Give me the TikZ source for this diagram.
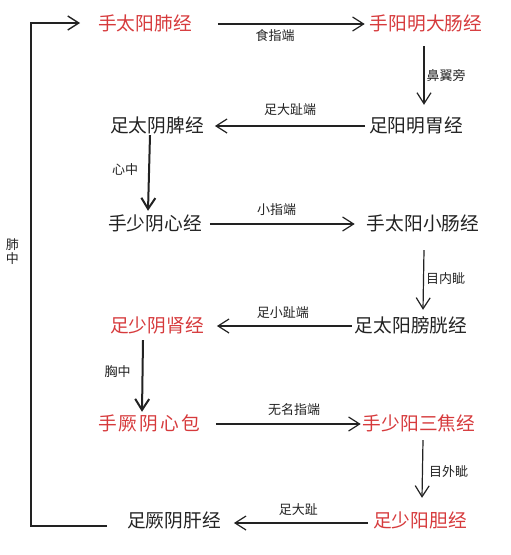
\documentclass[tikz,border=0pt]{standalone}
\usepackage{fontspec}
\usepackage{xcolor}
\usepackage{tikz}
\usetikzlibrary{
    arrows.meta,
    positioning,
    calc
}
\newfontfamily\cjkfont{Noto Sans CJK SC}
\definecolor{jlRed}{HTML}{D63A3C}
\definecolor{jlInk}{HTML}{222222}
\tikzset{
    jlMer/.style={
        font=\cjkfont\fontsize{18.7}{20}\selectfont,
        text=jlInk,
        inner sep=2pt,
        text height=15pt,
        text depth=3pt
    },
    jlMerRed/.style={
        jlMer,
        text=jlRed
    },
    jlLabel/.style={
        font=\cjkfont\fontsize{13}{14}\selectfont,
        text=jlInk,
        inner sep=1pt
    },
    jlArrow/.style={-{Straight Barb[length=11pt,width=14pt]},line width=1.2pt,draw=jlInk},
    jlThick/.style={jlArrow,line width=2pt}
}

\begin{document}
\begin{tikzpicture}[x=1pt,y=-1pt]
        \useasboundingbox (0,0) rectangle (511,555);

        % left column
        \node[jlMerRed] (fei) at (145,24) {手太阳肺经};
        \node[jlMer] (pi) at (157,126) {足太阴脾经};
        \node[jlMer] (xin) at (155,224) {手少阴心经};
        \node[jlMerRed] (shen) at (157,326) {足少阴肾经};
        \node[jlMerRed] (xinbao) at (149,424)
            {手\hspace{2pt}厥\hspace{2pt}阴\hspace{2pt}心\hspace{2pt}包};
        \node[jlMer] (gan) at (174,521) {足厥阴肝经};

        % right column
        \node[jlMerRed] (dachang) at (426,24) {手阳明大肠经};
        \node[jlMer] (wei) at (416,126) {足阳明胃经};
        \node[jlMer] (xiaochang) at (423,224) {手太阳小肠经};
        \node[jlMer] (pangguang) at (411,326) {足太阳膀胱经};
        \node[jlMerRed] (sanjiao) at (419,424) {手少阳三焦经};
        \node[jlMerRed] (dan) at (420,521) {足少阳胆经};

        % arrows
        \draw[jlArrow] ([xshift=24pt]fei.east) --
            node[jlLabel,below=4pt,pos=0.39] (l1) {食指端}
            ([xshift=-3pt]dachang.west);
        \draw[jlArrow] ([xshift=-2pt,yshift=-11pt]dachang.south) --
            node[jlLabel,right=1pt,pos=0.5] (l2) {鼻翼旁}
            ([xshift=8pt,yshift=10pt]wei.north);
        \draw[jlArrow] ([xshift=-2pt]wei.west) --
            node[jlLabel,above=9pt,pos=0.5] (l3) {足大趾端}
            ([xshift=9pt]pi.east);
        \draw[jlThick] ([xshift=-7pt,yshift=2pt]pi.south) --
            node[jlLabel,left=9pt,pos=0.46] (l4) {心中}
            ([xshift=-7pt,yshift=2pt]xin.north);
        \draw[jlArrow] ([xshift=6pt]xin.east) --
            node[jlLabel,above=7pt,pos=0.46] (l5) {小指端}
            ([xshift=-10pt]xiaochang.west);
        \draw[jlArrow] ([xshift=1pt,yshift=-15pt]xiaochang.south) --
            node[jlLabel,right=1pt,pos=0.47] (l6) {目内眦}
            ([xshift=12pt,yshift=5pt]pangguang.north);
        \draw[jlArrow] ([xshift=-1pt]pangguang.west) --
            node[jlLabel,above=6pt,pos=0.51] (l7) {足小趾端}
            ([xshift=11pt]shen.east);
        \draw[jlThick] ([xshift=-14pt,yshift=-3pt]shen.south) --
            node[jlLabel,left=10pt,pos=0.44] (l8) {胸中}
            ([xshift=-7pt,yshift=1pt]xinbao.north);
        \draw[jlArrow] ([xshift=14pt]xinbao.east) --
            node[jlLabel,above=7pt,pos=0.54] (l9) {无名指端}
            (sanjiao.west);
        \draw[jlArrow] ([xshift=4pt,yshift=-5pt]sanjiao.south) --
            node[jlLabel,right=5pt,pos=0.55] (l10) {目外眦}
            ([xshift=2pt,yshift=12pt]dan.north);
        \draw[jlArrow] ([xshift=-3pt,yshift=-2pt]dan.west) --
            node[jlLabel,above=6pt,pos=0.52] (l11) {足大趾}
            ([xshift=11pt,yshift=-2pt]gan.west -| gan.east);

        % back to the lung
        \coordinate (lungturn) at (31,252);
        \draw[jlArrow,line width=1.4pt] ([xshift=-18pt,yshift=-5pt]gan.west)
            -| (lungturn) |- ([xshift=-16pt,yshift=1pt]fei.west);
        \node[jlLabel,align=center,left=11pt of lungturn] (feizhong) {肺\\中};
    \end{tikzpicture}
\end{document}
